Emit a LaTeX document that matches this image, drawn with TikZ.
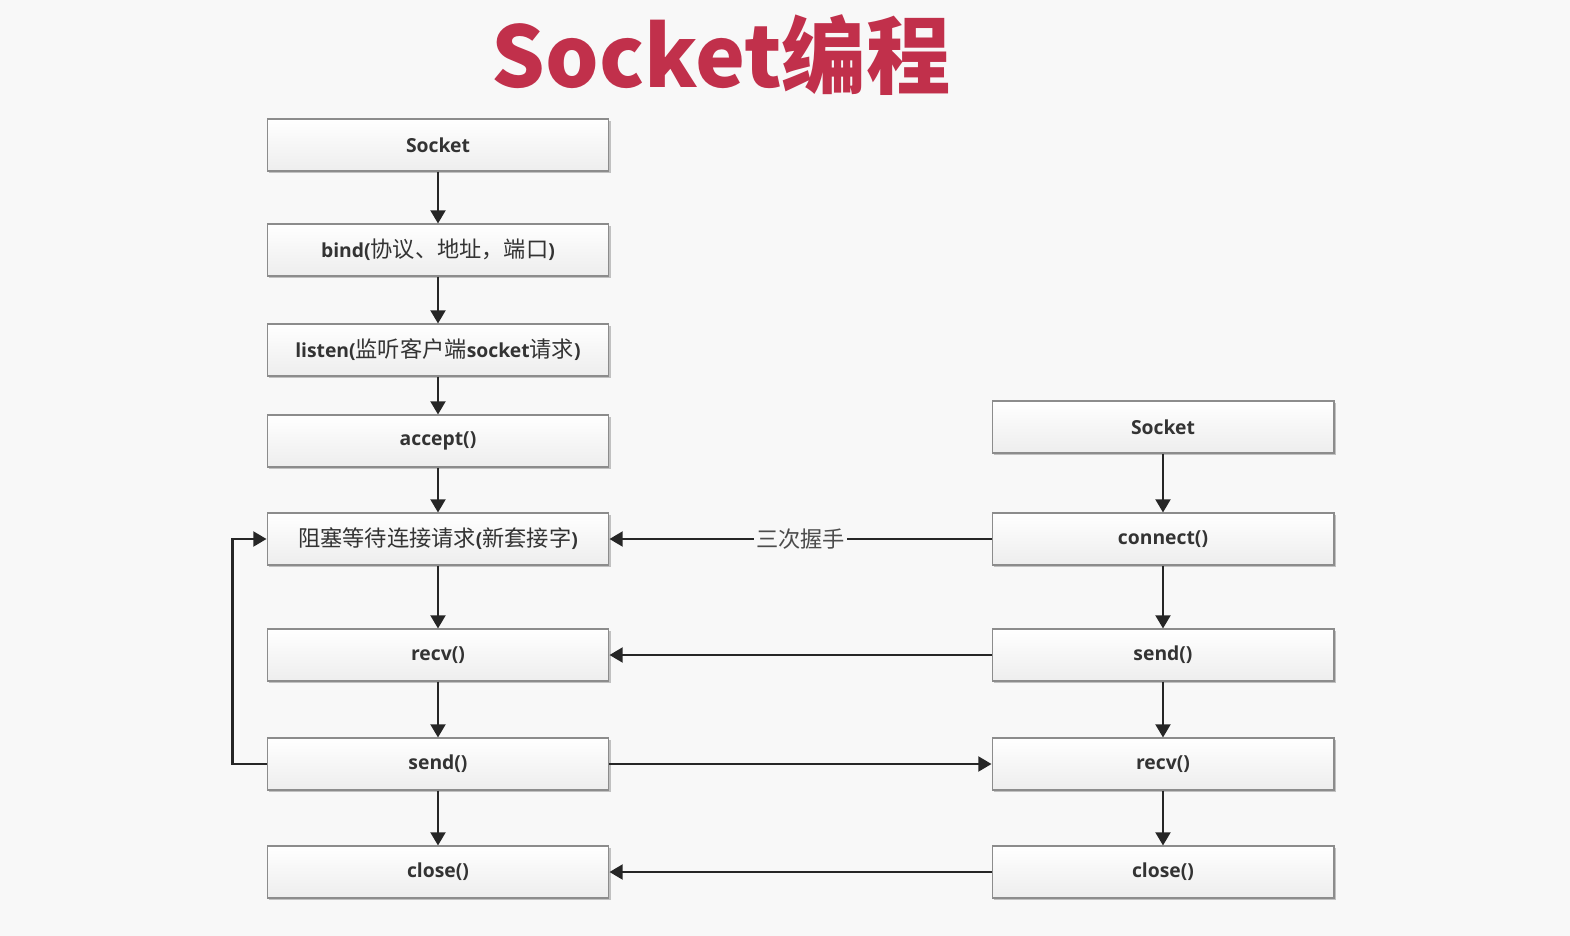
\documentclass[tikz,border=0pt]{standalone}
\usepackage{fontspec}
\setmainfont{Open Sans}
\newfontfamily\cjk[Scale=1.15]{Noto Sans CJK SC}
\newfontfamily\titlefont{Noto Sans CJK SC}
\newcommand{\zh}[1]{{\cjk\mdseries #1}}
\usetikzlibrary{positioning, arrows.meta, shadows}
\definecolor{titlered}{HTML}{C1304B}
\definecolor{boxline}{HTML}{8C8C8C}
\definecolor{bgpage}{HTML}{F8F8F8}
\definecolor{arrowgray}{HTML}{262626}

\begin{document}
\begin{tikzpicture}[
    x=0.02cm, y=-0.02cm,
    stepbox/.style={draw=boxline, line width=0.6pt, rectangle, top color=white, bottom color=gray!14, minimum width=6.84cm, minimum height=1.04cm, inner sep=2pt, font=\bfseries\fontsize{11}{13}\selectfont, text=black!80, drop shadow={shadow xshift=1.2pt, shadow yshift=-1.2pt, opacity=0.22, fill=black}},
    flow/.style={-{Triangle[length=7.5pt, width=8.5pt]}, line width=1.3pt, arrowgray},
    handshake/.style={fill=bgpage, inner sep=1pt, font=\cjk\fontsize{11}{13}\selectfont, text=black!70},
]
\fill[bgpage] (0,0) rectangle (1570,936);
\useasboundingbox (0,0) rectangle (1570,936);

\node[font=\titlefont\bfseries\fontsize{48}{52}\selectfont, text=titlered] (title) at (721,55) {Socket编程};

% server side
\node[stepbox] (sSock)   at (438,145) {Socket};
\node[stepbox] (sBind)   at (438,250) {bind(\zh{协议、地址，端口})};
\node[stepbox] (sListen) at (438,350) {listen(\zh{监听客户端}socket\zh{请求})};
\node[stepbox] (sAccept) at (438,441) {accept()};
\node[stepbox] (sWait)   at (438,539) {\zh{阻塞等待连接请求}(\zh{新套接字})};
\node[stepbox] (sRecv)   at (438,655) {recv()};
\node[stepbox] (sSend)   at (438,764) {send()};
\node[stepbox] (sClose)  at (438,872) {close()};

% client side
\node[stepbox] (cSock)  at (1163,427) {Socket};
\node[stepbox] (cConn)  at (1163,539) {connect()};
\node[stepbox] (cSend)  at (1163,655) {send()};
\node[stepbox] (cRecv)  at (1163,764) {recv()};
\node[stepbox] (cClose) at (1163,872) {close()};

% server flow
\draw[flow] (sSock.south) -- (sBind.north);
\draw[flow] (sBind.south) -- (sListen.north);
\draw[flow] (sListen.south) -- (sAccept.north);
\draw[flow] (sAccept.south) -- (sWait.north);
\draw[flow] (sWait.south) -- (sRecv.north);
\draw[flow] (sRecv.south) -- (sSend.north);
\draw[flow] (sSend.south) -- (sClose.north);
\draw[flow] (sSend.west) -- ++(-34,0) |- (sWait.west);

% client flow
\draw[flow] (cSock.south) -- (cConn.north);
\draw[flow] (cConn.south) -- (cSend.north);
\draw[flow] (cSend.south) -- (cRecv.north);
\draw[flow] (cRecv.south) -- (cClose.north);

% between the two sides
\draw[flow] (cConn.west) -- (sWait.east) node[midway, handshake] {三次握手};
\draw[flow] (cSend.west) -- (sRecv.east);
\draw[flow] (sSend.east) -- (cRecv.west);
\draw[flow] (cClose.west) -- (sClose.east);
\end{tikzpicture}
\end{document}
